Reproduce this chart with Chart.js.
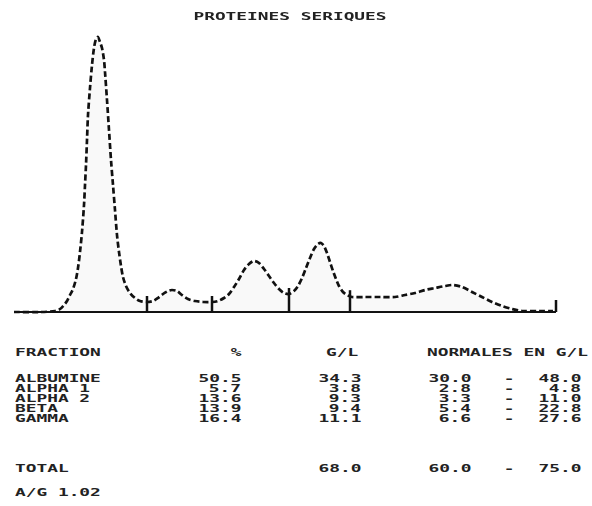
<!DOCTYPE html>
<html>
<head>
<meta charset="utf-8">
<script src="https://cdn.jsdelivr.net/npm/chart.js@4"></script>
<style>
  html, body { margin: 0; padding: 0; background: #fff; }
  #page { position: relative; width: 592px; height: 506px; overflow: hidden; }
  #plot { position: absolute; left: 0; top: 0; }
  .txt {
    position: absolute;
    font: bold 11px 'DejaVu Sans Mono', monospace;
    line-height: 14px;
    white-space: pre;
    color: #222;
  }
</style>
</head>
<body>
<div id="page">
  <canvas id="plot" width="592" height="330"></canvas>
</div>
<script>
// densitometry scan (migration / optical density)
const title = 'PROTEINES SERIQUES';
const migration = [14, 40, 55, 60, 64, 67, 70, 73, 76, 78, 80, 82, 84, 85, 86, 87, 88, 90, 92, 94, 96, 98, 100, 102, 104, 105, 107, 109, 111, 113, 115, 117, 119, 121, 123, 126, 130, 135, 140, 147, 153, 158, 163, 168, 172, 177, 182, 188, 195, 203, 212, 218, 224, 229, 234, 239, 244, 249, 254, 259, 264, 269, 274, 279, 284, 289, 294, 298, 302, 306, 310, 314, 318, 321, 324, 327, 330, 333, 336, 339, 343, 347, 352, 365, 380, 395, 405, 415, 425, 435, 445, 453, 462, 472, 482, 492, 502, 512, 522, 540, 553];
const density = [0, 0, 1, 3, 7, 11, 17, 23, 33, 44, 60, 80, 107, 127, 147, 172, 197, 224, 247, 264, 273, 275, 270, 264, 252, 240, 212, 182, 152, 127, 102, 77, 60, 46, 35, 26, 19, 14, 11, 10, 11, 14, 18, 21, 22, 21, 17, 13, 11, 10, 10, 11, 14, 18, 25, 33, 42, 48, 51, 49, 43, 36, 29, 23, 19, 18, 21, 26, 34, 44, 54, 63, 68, 69, 66, 59, 50, 41, 33, 26, 20, 17, 15, 15, 15, 15, 17, 19, 22, 24, 26, 27, 25, 20, 15, 10, 6, 3, 1, 1, 1];
const fractionCuts = [147, 212, 289, 350, 556];

// results table
const fractionNames = ['ALBUMINE', 'ALPHA 1', 'ALPHA 2', 'BETA', 'GAMMA'];
const percentValues = [50.5, 5.7, 13.6, 13.9, 16.4];
const glValues = [34.3, 3.8, 9.3, 9.4, 11.1];
const normalLow = [30.0, 2.8, 3.3, 5.4, 6.6];
const normalHigh = [48.0, 4.8, 11.0, 22.8, 27.6];
const totalGL = 68.0;
const totalNormal = [60.0, 75.0];
const agRatio = 1.02;

const page = document.getElementById('page');
const SX = 1.62; // wide printer font

function addText(str, x, y, align) {
    const el = document.createElement('div');
    el.className = 'txt';
    el.textContent = str;
    el.style.top = (y - 7) + 'px';
    if (align === 'right') {
        el.style.right = (592 - x) + 'px';
        el.style.transformOrigin = 'right center';
        el.style.transform = 'scaleX(' + SX + ')';
    } else if (align === 'center') {
        el.style.left = x + 'px';
        el.style.transform = 'translateX(-50%) scaleX(' + SX + ')';
    } else {
        el.style.left = x + 'px';
        el.style.transformOrigin = 'left center';
        el.style.transform = 'scaleX(' + SX + ')';
    }
    page.appendChild(el);
}

// interpolate density at a given migration
function densityAt(x) {
    for (let i = 1; i < migration.length; i++) {
        if (migration[i] >= x) {
            const t = (x - migration[i - 1]) / (migration[i] - migration[i - 1]);
            return density[i - 1] + t * (density[i] - density[i - 1]);
        }
    }
    return density[density.length - 1];
}

// fraction separators
const cutPlugin = {
    id: 'cuts',
    afterDatasetsDraw(chart) {
        const { ctx, scales } = chart;
        ctx.save();
        ctx.strokeStyle = '#111';
        ctx.lineWidth = 2.5;
        fractionCuts.forEach(c => {
            const top = Math.max(densityAt(c) + 6, 12);
            const px = scales.x.getPixelForValue(c);
            ctx.beginPath();
            ctx.moveTo(px, scales.y.getPixelForValue(0));
            ctx.lineTo(px, scales.y.getPixelForValue(top));
            ctx.stroke();
        });
        ctx.restore();
    }
};

new Chart(document.getElementById('plot'), {
    type: 'line',
    data: {
        datasets: [
            {
                label: 'densite',
                data: migration.map((m, i) => ({ x: m, y: density[i] })),
                borderColor: '#111',
                borderWidth: 2.7,
                borderDash: [6, 3],
                backgroundColor: 'rgba(110,110,110,0.04)',
                fill: 'origin',
                pointRadius: 0,
                tension: 0.3
            },
            {
                label: 'ligne de base',
                data: [{ x: migration[0], y: 0 }, { x: fractionCuts[fractionCuts.length - 1], y: 0 }],
                borderColor: '#111',
                borderWidth: 2,
                pointRadius: 0
            }
        ]
    },
    options: {
        responsive: false,
        animation: false,
        layout: { padding: 0 },
        plugins: { legend: { display: false }, tooltip: { enabled: false } },
        scales: {
            x: { type: 'linear', min: 0, max: 592, display: false },
            y: { min: -18, max: 312, display: false }
        }
    },
    plugins: [cutPlugin]
});

// title and table
addText(title, 290, 17, 'center');
addText('FRACTION', 15, 353);
addText('%', 236, 353, 'center');
addText('G/L', 326, 353);
addText('NORMALES EN G/L', 427, 353);

fractionNames.forEach((name, i) => {
    const y = 379 + i * 10;
    addText(name, 15, y);
    addText(percentValues[i].toFixed(1), 241, y, 'right');
    addText(glValues[i].toFixed(1), 361, y, 'right');
    addText(normalLow[i].toFixed(1), 471, y, 'right');
    addText('-', 509, y, 'center');
    addText(normalHigh[i].toFixed(1), 581, y, 'right');
});

addText('TOTAL', 15, 469);
addText(totalGL.toFixed(1), 361, 469, 'right');
addText(totalNormal[0].toFixed(1), 471, 469, 'right');
addText('-', 509, 469, 'center');
addText(totalNormal[1].toFixed(1), 581, 469, 'right');

addText('A/G ' + agRatio.toFixed(2), 15, 493);
</script>
</body>
</html>
